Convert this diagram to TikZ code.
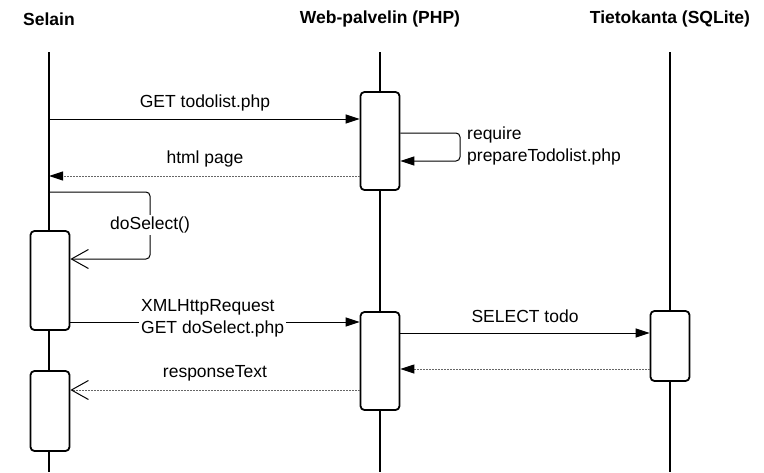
\documentclass[tikz,border=0pt]{standalone}
\usepackage{fontspec}
\setmainfont{Liberation Sans}
\usetikzlibrary{arrows.meta}
\begin{document}
\begin{tikzpicture}[x=1pt,y=-1pt,
  lbl/.style={font=\fontsize{17.5}{22}\selectfont, inner sep=2pt},
  head/.style={font=\fontsize{17.5}{20}\selectfont\bfseries},
  life/.style={line width=1.5pt},
  act/.style={draw, line width=1.8pt, rounded corners=4pt, fill=white, minimum width=39pt, inner sep=0pt},
  msg/.style={line width=1pt, -{Triangle[length=14pt,width=9pt]}},
  ret/.style={line width=1pt, draw=gray!80!black, dash pattern=on 1.2pt off 1.8pt, -{Triangle[length=14pt,width=9pt,color=black]}},
  retopen/.style={line width=1pt, draw=gray!80!black, dash pattern=on 1.2pt off 1.8pt, -{Straight Barb[length=17pt,width=19pt,color=black,line width=1pt]}},
  selfopen/.style={line width=1pt, rounded corners=4pt, -{Straight Barb[length=17pt,width=19pt]}},
  selfmsg/.style={line width=1pt, rounded corners=4pt, -{Triangle[length=14pt,width=9pt]}}
]
\useasboundingbox (0,0) rectangle (764,472);

% headers
\node[head] (hS) at (49,19) {Selain};
\node[head] (hW) at (380,19) {Web-palvelin (PHP)};
\node[head] (hD) at (670,19) {Tietokanta (SQLite)};

% lifelines
\coordinate (sTop) at (49,52);   \coordinate (sBot) at (49,472);
\coordinate (wTop) at (380,52);  \coordinate (wBot) at (380,472);
\coordinate (dTop) at (670,52);  \coordinate (dBot) at (670,472);
\draw[life] (sTop) -- (sBot);
\draw[life] (wTop) -- (wBot);
\draw[life] (dTop) -- (dBot);

% activation boxes
\node[act, minimum height=98pt] (wA1) at (380,141) {};
\node[act, minimum height=98pt] (wA2) at (380,361) {};
\node[act, minimum height=99pt] (sA1) at (50,280.5) {};
\node[act, minimum height=80pt] (sA2) at (50,411) {};
\node[act, minimum height=70pt] (dA) at (670,346) {};

% GET todolist.php
\coordinate (g1) at (49,119);
\draw[msg] (g1) -- (g1 -| wA1.west);
\node[lbl] (lGet) at (205,103) {GET todolist.php};

% html page
\coordinate (h1) at (49,176);
\draw[ret] (h1 -| wA1.west) -- (h1);
\node[lbl] (lHtml) at (205,159) {html page};

% require prepareTodolist.php
\coordinate (r1) at (460,133);
\coordinate (r2) at (460,161);
\draw[selfmsg] (wA1.east |- r1) -- (r1) -- (r2) -- (wA1.east |- r2);
\node[lbl, anchor=west, align=left] (lReq) at (465,146) {require\\prepareTodolist.php};

% doSelect()
\coordinate (d1) at (49,192);
\coordinate (d2) at (150,192);
\coordinate (d3) at (150,259);
\draw[selfopen] (d1) -- (d2) -- (d3) -- (sA1.east |- d3);
\node[lbl, fill=white] (lDo) at (150,225) {doSelect()};

% XMLHttpRequest
\coordinate (x1) at (70,322);
\draw[msg] (sA1.east |- x1) -- (wA2.west |- x1);
\node[lbl, fill=white, anchor=west, align=left] (lXml) at (139,318) {XMLHttpRequest\\GET doSelect.php};

% responseText
\coordinate (rt) at (70,390);
\draw[retopen] (wA2.west |- rt) -- (sA2.east |- rt);
\node[lbl] (lResp) at (215,373) {responseText};

% SELECT todo
\coordinate (st) at (400,333);
\draw[msg] (wA2.east |- st) -- (dA.west |- st);
\node[lbl] (lSel) at (525,316) {SELECT todo};

% return from DB
\coordinate (dr) at (400,369);
\draw[ret] (dA.west |- dr) -- (wA2.east |- dr);
\end{tikzpicture}
\end{document}
